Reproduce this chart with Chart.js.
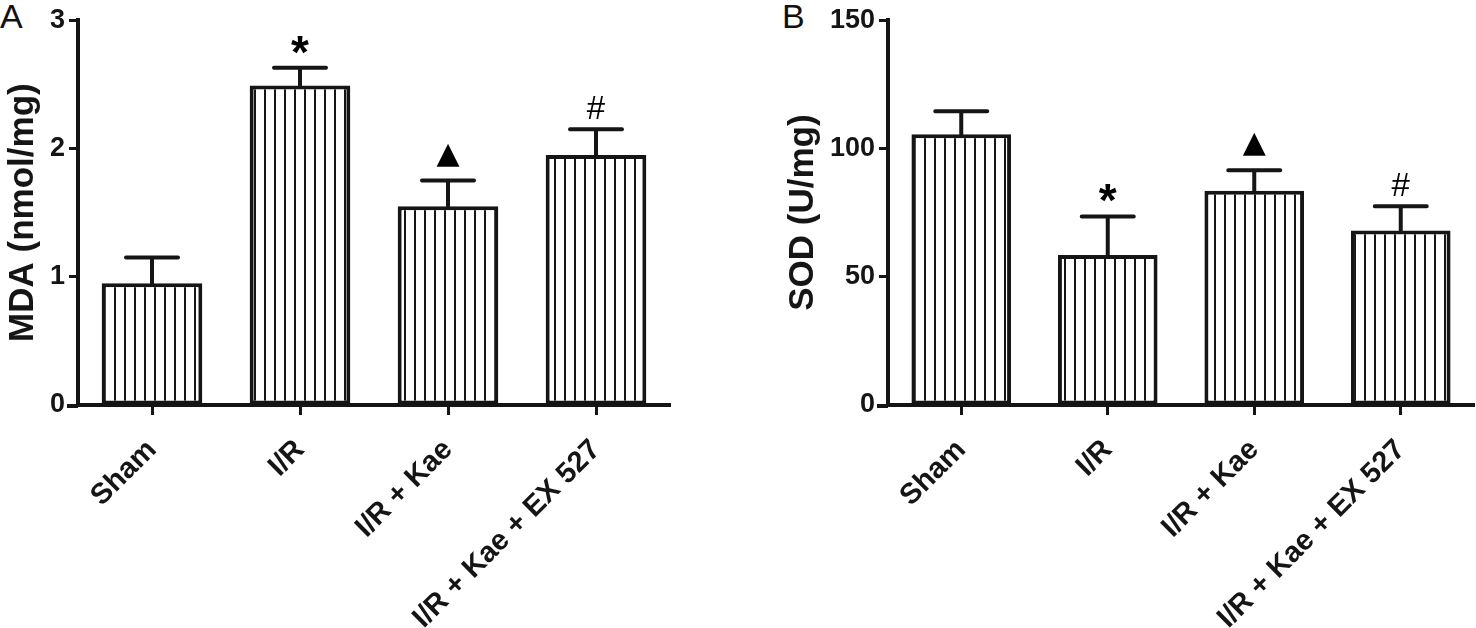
<!DOCTYPE html>
<html>
<head>
<meta charset="utf-8">
<script src="https://cdn.jsdelivr.net/npm/chart.js@4.4.0/dist/chart.umd.min.js"></script>
<style>
  html, body { margin: 0; padding: 0; background: #fff; }
  body { width: 1476px; height: 628px; position: relative; overflow: hidden; }
  canvas { position: absolute; top: 0; }
  #chartA { left: 0; }
  #chartB { left: 780px; }
  .panel { position: absolute; top: -3px; font: 34px "Liberation Sans", Arial, sans-serif; color: #111; }
</style>
</head>
<body>
<div class="panel" style="left:0px">A</div>
<div class="panel" style="left:782px">B</div>
<canvas id="chartA" width="700" height="628"></canvas>
<canvas id="chartB" width="696" height="628"></canvas>
<script>
// ======================================== data
const groups = ["Sham", "I/R", "I/R + Kae", "I/R + Kae + EX 527"];

const mdaMean = [0.95, 2.49, 1.55, 1.95];
const mdaErr = [0.20, 0.14, 0.20, 0.20];
const mdaMarks = ["", "*", "▲", "#"];
const mdaTicks = [0, 1, 2, 3];

const sodMean = [105.5, 58.5, 83.5, 68];
const sodErr = [9, 15, 8, 9.5];
const sodMarks = ["", "*", "▲", "#"];
const sodTicks = [0, 50, 100, 150];

const ink = "#151515";
Chart.defaults.font.family = '"Liberation Sans", Arial, sans-serif';
Chart.defaults.color = ink;

// vertical hatch fill for the bars
function hatchFill(ctx) {
  const c = document.createElement("canvas");
  c.width = 10;
  c.height = 10;
  const g = c.getContext("2d");
  g.fillStyle = "#fff";
  g.fillRect(0, 0, 10, 10);
  g.fillStyle = ink;
  g.fillRect(4, 0, 2, 10);
  return ctx.createPattern(c, "repeat");
}

// error bars + significance marks, drawn from the y scale
const errBars = {
  id: "errBars",
  afterDatasetsDraw(chart, args, opts) {
    const ctx = chart.ctx;
    const y = chart.scales.y;
    const values = chart.data.datasets[0].data;
    chart.getDatasetMeta(0).data.forEach((bar, i) => {
      const top = y.getPixelForValue(values[i]);
      const cap = y.getPixelForValue(values[i] + opts.err[i]);
      ctx.save();
      ctx.strokeStyle = ink;
      ctx.lineWidth = 4;
      ctx.lineCap = "round";
      ctx.beginPath();
      ctx.moveTo(bar.x, top);
      ctx.lineTo(bar.x, cap);
      ctx.moveTo(bar.x - 26, cap);
      ctx.lineTo(bar.x + 26, cap);
      ctx.stroke();

      const mark = opts.marks[i];
      if (mark) {
        if (mark === "*") ctx.font = 'bold 46px "Liberation Sans", Arial, sans-serif';
        else if (mark === "▲") ctx.font = '30px "DejaVu Sans", sans-serif';
        else ctx.font = '33px "Liberation Sans", Arial, sans-serif';
        ctx.fillStyle = "#000";
        ctx.textAlign = "center";
        ctx.textBaseline = "alphabetic";
        const m = ctx.measureText(mark);
        const gap = mark === "#" ? 10 : 14;
        ctx.fillText(mark, bar.x, cap - gap - m.actualBoundingBoxDescent);
      }
      ctx.restore();
    });
    // short stub of the x axis left of the y axis
    const area = chart.chartArea;
    ctx.save();
    ctx.strokeStyle = ink;
    ctx.lineWidth = 4;
    ctx.beginPath();
    ctx.moveTo(area.left - 11, area.bottom + 1);
    ctx.lineTo(area.left, area.bottom + 1);
    ctx.stroke();
    ctx.restore();
  },
};

function makeChart(id, values, errs, marks, ticks, title, yWidth, padRight) {
  const ctx = document.getElementById(id).getContext("2d");
  return new Chart(ctx, {
    type: "bar",
    data: {
      labels: groups,
      datasets: [
        {
          data: values,
          backgroundColor: hatchFill(ctx),
          borderColor: ink,
          borderWidth: 4,
          borderSkipped: false,
          barPercentage: 0.68,
          categoryPercentage: 1,
        },
      ],
    },
    options: {
      responsive: false,
      animation: false,
      devicePixelRatio: 1,
      layout: { padding: { top: 3, right: padRight, bottom: 0, left: 0 } },
      plugins: {
        legend: { display: false },
        tooltip: { enabled: false },
        errBars: { err: errs, marks: marks },
      },
      scales: {
        x: {
          offset: true,
          afterFit: (s) => { s.height = 223; },
          border: { display: true, color: ink, width: 4 },
          grid: {
            display: true,
            offset: false,
            drawOnChartArea: false,
            drawTicks: true,
            tickLength: 10,
            tickWidth: 3,
            tickColor: ink,
          },
          ticks: {
            minRotation: 45,
            maxRotation: 45,
            autoSkip: false,
            padding: 18,
            font: { size: 29, weight: "bold" },
          },
        },
        y: {
          min: ticks[0],
          max: ticks[ticks.length - 1],
          afterFit: (s) => { s.width = yWidth; },
          afterBuildTicks: (s) => { s.ticks = ticks.map((v) => ({ value: v })); },
          border: { display: true, color: ink, width: 4 },
          grid: {
            display: true,
            drawOnChartArea: false,
            drawTicks: true,
            tickLength: 9,
            tickWidth: 3,
            tickColor: ink,
          },
          ticks: { padding: 4, font: { size: 27, weight: "bold" } },
          title: {
            display: true,
            text: title,
            font: { size: 35, weight: "bold" },
            padding: { top: 2, bottom: 0 },
          },
        },
      },
    },
    plugins: [errBars],
  });
}

makeChart("chartA", mdaMean, mdaErr, mdaMarks, mdaTicks, "MDA (nmol/mg)", 78, 30);
makeChart("chartB", sodMean, sodErr, sodMarks, sodTicks, "SOD (U/mg)", 108, 2);
</script>
</body>
</html>
